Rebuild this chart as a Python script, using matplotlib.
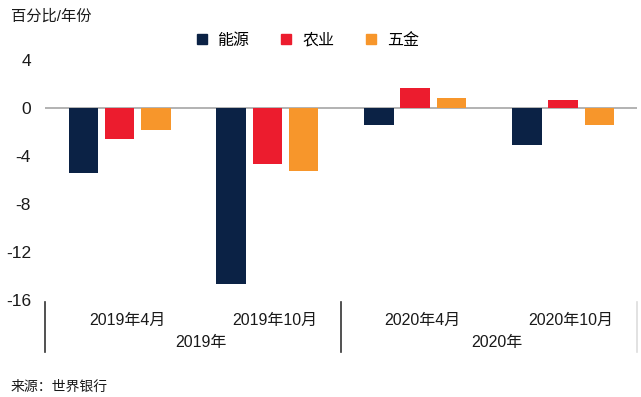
import numpy as np
import matplotlib
matplotlib.use("Agg")
import matplotlib.pyplot as plt
from matplotlib.lines import Line2D
import matplotlib.transforms as mtransforms

plt.rcParams['font.family'] = ['Liberation Sans', 'Noto Sans CJK SC', 'DejaVu Sans']

# data (percent, year on year)
periods = ["2019年4月", "2019年10月", "2020年4月", "2020年10月"]
years = ["2019年", "2020年"]
series_names = ["能源", "农业", "五金"]
energy = [-5.45, -14.7, -1.45, -3.12]
agriculture = [-2.63, -4.67, 1.66, 0.62]
metals = [-1.9, -5.25, 0.8, -1.41]
colours = ["#0b2245", "#ec1c2e", "#f7962b"]

values = [energy, agriculture, metals]

fig = plt.figure(figsize=(6.41, 3.97), dpi=100)
W, H = 641, 397
ax = fig.add_axes([45 / W, 1 - 300 / H, (637 - 45) / W, (300 - 59.5) / H])

x = np.arange(len(periods))
width = 0.2
step = 0.245
for i, vals in enumerate(values):
    ax.bar(x + (i - 1) * step, vals, width, color=colours[i], edgecolor="none")

ax.axhline(0, color="#a6a6a6", lw=1.2, zorder=0)
ax.set_xlim(-0.505, 3.5)
ax.set_ylim(-16, 4)
ax.set_yticks([4, 0, -4, -8, -12, -16])
ax.set_yticklabels(["4", "0", "-4", "-8", "-12", "-16"])
ax.tick_params(axis="y", length=0, pad=10, labelsize=12.5, labelcolor="#1a1a1a")
ax.set_xticks([])
for s in ax.spines.values():
    s.set_visible(False)

# category axis below the plot
trans = mtransforms.blended_transform_factory(ax.transData, ax.transAxes)
for i, p in enumerate(periods):
    ax.text(x[i] + 0.05, -0.083, p, transform=trans, ha="center", va="center",
            fontsize=11.5, color="#1a1a1a")
for j, yr in enumerate(years):
    ax.text(0.5 + 2 * j + 0.05, -0.175, yr, transform=trans, ha="center", va="center",
            fontsize=11.5, color="#1a1a1a")
for sx, c in [(-0.505, "#333333"), (1.5, "#333333"), (3.5, "#dddddd")]:
    ax.plot([sx, sx], [-0.008, -0.216], transform=trans, color=c, lw=1.2, clip_on=False)

# legend
handles = [Line2D([], [], marker="s", linestyle="none", markersize=7,
                  color=colours[i]) for i in range(3)]
fig.legend(handles, series_names, loc="center", bbox_to_anchor=(307 / W, 1 - 40 / H),
           ncol=3, frameon=False, fontsize=11.5, handlelength=0.8, handletextpad=0.6,
           columnspacing=1.9)

fig.text(11 / W, 1 - 17 / H, "百分比/年份", fontsize=11, va="center", ha="left",
         color="#1a1a1a")
fig.text(11 / W, 1 - 387 / H, "来源：世界银行", fontsize=10, va="center", ha="left",
         color="#1a1a1a")

fig.savefig("out.png", dpi=100)
